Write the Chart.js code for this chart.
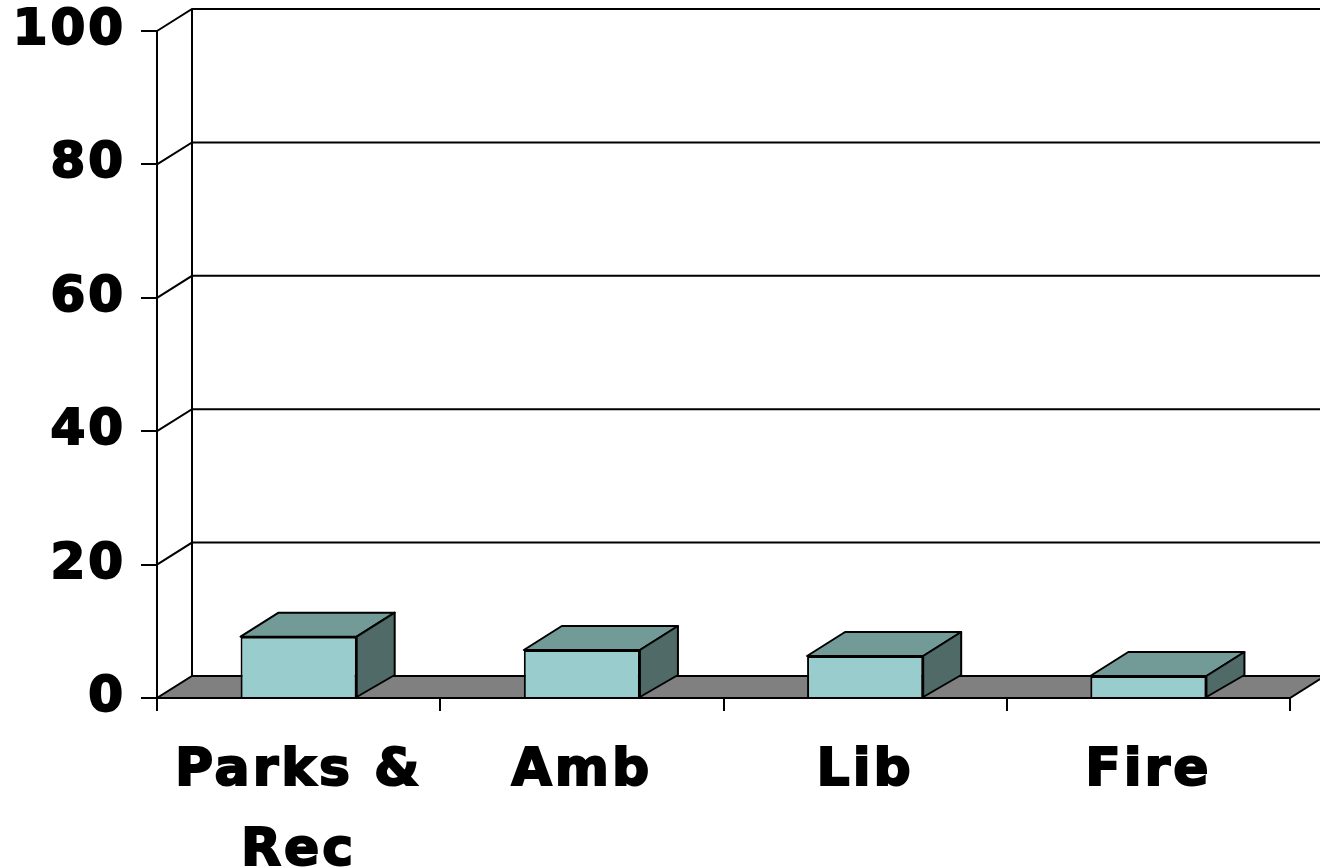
<!DOCTYPE html>
<html>
<head>
<meta charset="utf-8">
<script src="https://cdn.jsdelivr.net/npm/chart.js@4/dist/chart.umd.min.js"></script>
<style>
  body { margin: 0; background: #fff; }
</style>
</head>
<body>
<canvas id="chart" width="1320" height="868"></canvas>
<script>
var categories = [['Parks &', 'Rec'], 'Amb', 'Lib', 'Fire'];
var values = [9.2, 7.2, 6.3, 3.3];
var yMin = 0;
var yMax = 100;
var yStep = 20;

// depth offsets of the fake 3d look
var WX = 35, WY = -22;   // back wall / floor
var BX = 38, BY = -24;   // bar top and side

var FONT = "'DejaVu Sans', 'Liberation Sans', sans-serif";

var depth3d = {
    id: 'depth3d',
    beforeDraw: function(chart) {
        chart.ctx.letterSpacing = '3px';
    },
    beforeDatasetsDraw: function(chart) {
        var ctx = chart.ctx;
        var a = chart.chartArea;
        var y = chart.scales.y;
        ctx.save();
        ctx.strokeStyle = '#000';
        ctx.lineWidth = 2;

        // back wall lines
        y.ticks.forEach(function(t) {
            if (t.value === yMin) return;
            var py = y.getPixelForValue(t.value);
            ctx.beginPath();
            ctx.moveTo(a.left, py);
            ctx.lineTo(a.left + WX, py + WY);
            ctx.lineTo(a.right + WX, py + WY);
            ctx.stroke();
        });
        ctx.beginPath();
        ctx.moveTo(a.left + WX, a.bottom + WY);
        ctx.lineTo(a.left + WX, y.getPixelForValue(yMax) + WY);
        ctx.stroke();

        // floor
        ctx.fillStyle = '#808080';
        ctx.beginPath();
        ctx.moveTo(a.left, a.bottom);
        ctx.lineTo(a.right, a.bottom);
        ctx.lineTo(a.right + WX, a.bottom + WY);
        ctx.lineTo(a.left + WX, a.bottom + WY);
        ctx.closePath();
        ctx.fill();
        ctx.stroke();
        ctx.restore();
    },
    afterDatasetsDraw: function(chart) {
        var ctx = chart.ctx;
        var meta = chart.getDatasetMeta(0);
        ctx.save();
        ctx.strokeStyle = '#000';
        ctx.lineWidth = 2;
        ctx.lineJoin = 'round';
        meta.data.forEach(function(bar) {
            var p = bar.getProps(['x', 'y', 'base', 'width'], true);
            var l = p.x - p.width / 2, r = p.x + p.width / 2;
            // top
            ctx.fillStyle = '#729A97';
            ctx.beginPath();
            ctx.moveTo(l, p.y);
            ctx.lineTo(r, p.y);
            ctx.lineTo(r + BX, p.y + BY);
            ctx.lineTo(l + BX, p.y + BY);
            ctx.closePath();
            ctx.fill();
            ctx.stroke();
            // side
            ctx.fillStyle = '#4F6A67';
            ctx.beginPath();
            ctx.moveTo(r, p.y);
            ctx.lineTo(r + BX, p.y + BY);
            ctx.lineTo(r + BX, p.base + WY);
            ctx.lineTo(r, p.base);
            ctx.closePath();
            ctx.fill();
            ctx.stroke();
        });
        ctx.restore();
    }
};

var ctx = document.getElementById('chart');
var chartInstance = new Chart(ctx, {
    type: 'bar',
    data: {
        labels: categories,
        datasets: [{
            data: values,
            backgroundColor: '#99CCCC',
            borderColor: '#000',
            borderWidth: 2,
            barPercentage: 0.41,
            categoryPercentage: 1
        }]
    },
    options: {
        responsive: false,
        animation: false,
        layout: { padding: { top: 31, right: 30, left: 0, bottom: 0 } },
        plugins: {
            legend: { display: false },
            tooltip: { enabled: false }
        },
        scales: {
            x: {
                grid: { drawOnChartArea: false, color: '#000', lineWidth: 2, tickLength: 13 },
                border: { color: '#000', width: 2 },
                ticks: {
                    color: '#000',
                    textStrokeColor: '#000',
                    textStrokeWidth: 2,
                    font: { family: FONT, size: 52, weight: 'bold', lineHeight: 1.55 },
                    padding: 20,
                    maxRotation: 0,
                    autoSkip: false
                },
                afterFit: function(s) { s.height = 170; }
            },
            y: {
                min: yMin,
                max: yMax,
                grid: { drawOnChartArea: false, color: '#000', lineWidth: 2, tickLength: 16 },
                border: { color: '#000', width: 2 },
                ticks: {
                    stepSize: yStep,
                    color: '#000',
                    textStrokeColor: '#000',
                    textStrokeWidth: 2,
                    font: { family: FONT, size: 50, weight: 'bold' },
                    padding: 15
                },
                afterFit: function(s) {
                    s.width = 157;
                    s.paddingTop = 0;
                    s.paddingBottom = 0;
                }
            }
        }
    },
    plugins: [depth3d]
});
</script>
</body>
</html>
